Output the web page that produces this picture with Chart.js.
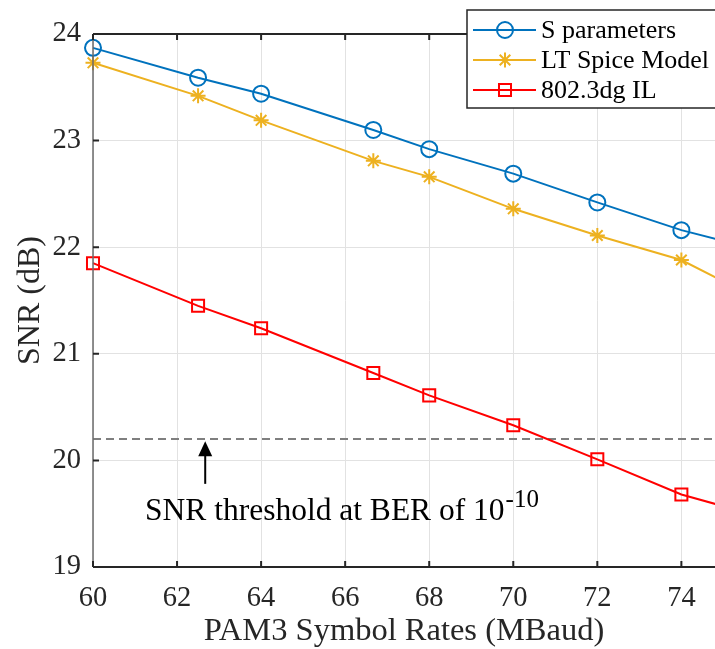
<!DOCTYPE html>
<html>
<head>
<meta charset="utf-8">
<script src="https://cdn.jsdelivr.net/npm/chart.js@4/dist/chart.umd.min.js"></script>
<style>
  body { margin: 0; background: #fff; }
  canvas { display: block; }
</style>
</head>
<body>
<canvas id="snrChart" width="715" height="649"></canvas>
<script>
// symbol rates (MBaud), last point lies past the cropped right edge
const symbolRates = [60, 62.5, 64, 66.67, 68, 70, 72, 74, 76];
const sParams = [23.87, 23.59, 23.44, 23.10, 22.92, 22.69, 22.42, 22.16, 21.96];
const ltSpice = [23.73, 23.42, 23.19, 22.81, 22.66, 22.36, 22.11, 21.88, 21.48];
const ieeeIL = [21.85, 21.45, 21.24, 20.82, 20.61, 20.33, 20.01, 19.68, 19.46];
const thresholdRates = [60, 76];
const thresholdSnr = [20.2, 20.2];
const xTicks = [60, 62, 64, 66, 68, 70, 72, 74];
const yTicks = [19, 20, 21, 22, 23, 24];
const arrowRate = 62.67;
const arrowSnr = [20.18, 19.78];

const FONT = "'Liberation Serif', 'Times New Roman', serif";
const BLUE = '#0072BD';
const YELLOW = '#EDB120';
const RED = '#FF0000';

const toPoints = (xs, ys) => xs.map((x, i) => ({ x: x, y: ys[i] }));

const seriesInfo = [
    { label: 'S parameters', color: BLUE, style: 'circle', radius: 8, data: sParams },
    { label: 'LT Spice Model', color: YELLOW, style: 'star', radius: 7.5, data: ltSpice },
    { label: '802.3dg IL', color: RED, style: 'rect', radius: 8.5, data: ieeeIL }
];

const datasets = seriesInfo.map(s => ({
    label: s.label,
    data: toPoints(symbolRates, s.data),
    borderColor: s.color,
    backgroundColor: 'rgba(0,0,0,0)',
    borderWidth: 2,
    pointStyle: s.style,
    pointRadius: s.radius,
    pointBorderColor: s.color,
    pointBorderWidth: 2,
    pointBackgroundColor: 'rgba(0,0,0,0)',
    tension: 0,
    clip: false
}));

datasets.push({
    label: 'threshold',
    data: toPoints(thresholdRates, thresholdSnr),
    borderColor: '#7f7f7f',
    borderWidth: 2,
    borderDash: [8, 5],
    pointRadius: 0,
    clip: false
});

// draws a marker like chart.js does, used for the legend
const drawMarker = (ctx, style, x, y, r) => {
    ctx.beginPath();
    if (style === 'circle') {
        ctx.arc(x, y, r, 0, Math.PI * 2);
    } else if (style === 'rect') {
        const s = r * Math.SQRT1_2;
        ctx.rect(x - s, y - s, 2 * s, 2 * s);
    } else if (style === 'star') {
        for (let k = 0; k < 4; k++) {
            const a = k * Math.PI / 4;
            ctx.moveTo(x - Math.sin(a) * r, y - Math.cos(a) * r);
            ctx.lineTo(x + Math.sin(a) * r, y + Math.cos(a) * r);
        }
    }
    ctx.stroke();
};

const decorations = {
    id: 'decorations',
    afterDraw(chart) {
        const { ctx, chartArea: area, scales: { x, y } } = chart;
        ctx.save();

        // axes box
        ctx.strokeStyle = '#262626';
        ctx.lineWidth = 2;
        ctx.beginPath();
        ctx.moveTo(area.left, area.top);
        ctx.lineTo(area.right, area.top);
        ctx.moveTo(area.left, area.bottom);
        ctx.lineTo(area.right, area.bottom);
        ctx.stroke();
        ctx.strokeStyle = '#6b6b6b';
        ctx.lineWidth = 1.5;
        ctx.beginPath();
        ctx.moveTo(area.left, area.top);
        ctx.lineTo(area.left, area.bottom);
        ctx.stroke();

        // inward ticks
        ctx.strokeStyle = '#262626';
        ctx.lineWidth = 2;
        ctx.beginPath();
        for (const v of xTicks) {
            const px = x.getPixelForValue(v);
            ctx.moveTo(px, area.bottom);
            ctx.lineTo(px, area.bottom - 6);
            ctx.moveTo(px, area.top);
            ctx.lineTo(px, area.top + 6);
        }
        for (const v of yTicks) {
            const py = y.getPixelForValue(v);
            ctx.moveTo(area.left, py);
            ctx.lineTo(area.left + 6, py);
        }
        ctx.stroke();

        // arrow pointing at the threshold
        const ax = x.getPixelForValue(arrowRate);
        const tipY = y.getPixelForValue(arrowSnr[0]);
        const tailY = y.getPixelForValue(arrowSnr[1]);
        ctx.strokeStyle = '#000';
        ctx.fillStyle = '#000';
        ctx.lineWidth = 2;
        ctx.beginPath();
        ctx.moveTo(ax, tailY);
        ctx.lineTo(ax, tipY + 12);
        ctx.stroke();
        ctx.beginPath();
        ctx.moveTo(ax, tipY);
        ctx.lineTo(ax - 7, tipY + 15);
        ctx.lineTo(ax + 7, tipY + 15);
        ctx.closePath();
        ctx.fill();

        // annotation text
        ctx.fillStyle = '#000';
        ctx.textBaseline = 'alphabetic';
        ctx.textAlign = 'left';
        ctx.font = '31.5px ' + FONT;
        const mainText = 'SNR threshold at BER of 10';
        ctx.fillText(mainText, 145, 520);
        const w = ctx.measureText(mainText).width;
        ctx.font = '25px ' + FONT;
        ctx.fillText('-10', 145 + w + 1, 507);

        // legend
        const lx = 467, ly = 10, lh = 98;
        ctx.fillStyle = '#fff';
        ctx.fillRect(lx, ly, chart.width - lx + 5, lh);
        ctx.strokeStyle = '#262626';
        ctx.lineWidth = 1.5;
        ctx.strokeRect(lx, ly, chart.width - lx + 5, lh);
        seriesInfo.forEach((s, i) => {
            const rowY = 30 + i * 30;
            ctx.strokeStyle = s.color;
            ctx.lineWidth = 2;
            ctx.beginPath();
            ctx.moveTo(473, rowY);
            ctx.lineTo(536, rowY);
            ctx.stroke();
            drawMarker(ctx, s.style, 505, rowY, s.radius);
            ctx.fillStyle = '#000';
            ctx.font = '26px ' + FONT;
            ctx.textBaseline = 'middle';
            ctx.fillText(s.label, 541, rowY + 1);
        });

        ctx.restore();
    }
};

const chartCtx = document.getElementById('snrChart').getContext('2d');
new Chart(chartCtx, {
    type: 'line',
    data: { datasets: datasets },
    options: {
        responsive: false,
        animation: false,
        layout: { autoPadding: false, padding: { top: 34, right: 0, left: 0, bottom: 0 } },
        plugins: {
            legend: { display: false },
            tooltip: { enabled: false }
        },
        scales: {
            x: {
                type: 'linear',
                min: 60,
                max: 74.8,
                afterFit: (scale) => {
                    scale.height = 82;
                    scale.paddingLeft = 0;
                    scale.paddingRight = 0;
                },
                afterBuildTicks: (scale) => { scale.ticks = xTicks.map(v => ({ value: v })); },
                grid: { color: '#e2e2e2', lineWidth: 1, drawTicks: false },
                border: { display: false },
                ticks: {
                    padding: 14,
                    color: '#262626',
                    font: { family: FONT, size: 28.5 },
                    maxRotation: 0,
                    autoSkip: false
                },
                title: {
                    display: true,
                    text: 'PAM3 Symbol Rates (MBaud)',
                    color: '#262626',
                    font: { family: FONT, size: 32.5, lineHeight: 1.05 },
                    padding: { top: 0, bottom: 0 }
                }
            },
            y: {
                type: 'linear',
                min: 19,
                max: 24,
                afterFit: (scale) => {
                    scale.width = 93;
                    scale.paddingTop = 0;
                    scale.paddingBottom = 0;
                },
                afterBuildTicks: (scale) => { scale.ticks = yTicks.map(v => ({ value: v })); },
                grid: { color: '#e2e2e2', lineWidth: 1, drawTicks: false },
                border: { display: false },
                ticks: {
                    padding: 12,
                    color: '#262626',
                    font: { family: FONT, size: 28.5 }
                },
                title: {
                    display: true,
                    text: 'SNR (dB)',
                    color: '#262626',
                    font: { family: FONT, size: 32, lineHeight: 1.05 },
                    padding: { top: 14, bottom: 0 }
                }
            }
        }
    },
    plugins: [decorations]
});
</script>
</body>
</html>
